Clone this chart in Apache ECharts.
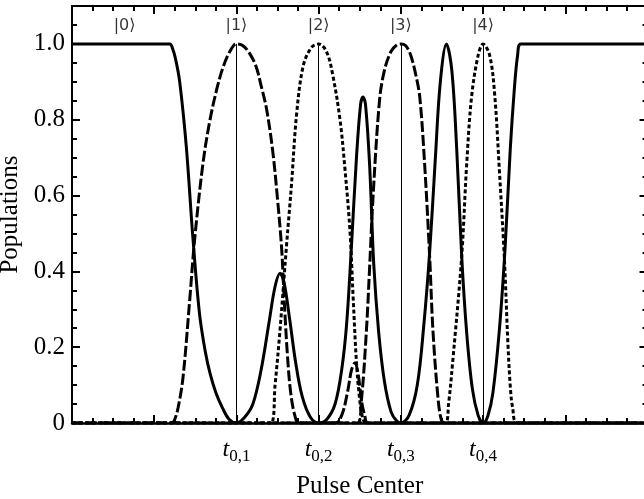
<!DOCTYPE html>
<meta charset="utf-8">
<style>
html, body { margin: 0; padding: 0; background: #fff; }
#main { width: 644px; height: 499px; }
</style>
<div id="main"></div>
<script src="https://cdn.jsdelivr.net/npm/echarts@6/dist/echarts.min.js"></script>
<script>
// populations, x in units of pulse spacing (t0,n = n)
var solidCurve = [
    [-1, 1], [0.19, 1], [0.22, 0.99], [0.26, 0.96], [0.31, 0.9], [0.39, 0.73], [0.47, 0.49],
    [0.55, 0.29], [0.62, 0.19], [0.68, 0.13], [0.75, 0.08], [0.83, 0.04], [0.91, 0.01], [1, 0],
    [1.1, 0.015], [1.2, 0.05], [1.3, 0.14], [1.4, 0.27], [1.47, 0.36], [1.53, 0.395], [1.58, 0.37],
    [1.65, 0.27], [1.72, 0.16], [1.8, 0.07], [1.9, 0.015], [2, 0],
    [2.1, 0.01], [2.2, 0.05], [2.28, 0.14], [2.34, 0.26], [2.4, 0.47], [2.46, 0.7], [2.51, 0.84],
    [2.54, 0.86], [2.57, 0.84], [2.62, 0.68], [2.67, 0.42], [2.73, 0.24], [2.8, 0.11], [2.88, 0.03],
    [2.95, 0.005], [3, 0],
    [3.1, 0.02], [3.2, 0.1], [3.28, 0.26], [3.35, 0.45], [3.42, 0.7], [3.48, 0.9], [3.555, 1],
    [3.62, 0.93], [3.68, 0.72], [3.74, 0.44], [3.8, 0.24], [3.87, 0.09], [3.94, 0.02], [4, 0],
    [4.06, 0.02], [4.12, 0.08], [4.2, 0.25], [4.27, 0.47], [4.33, 0.72], [4.38, 0.88], [4.42, 0.97],
    [4.46, 1], [6, 1]
];
var state1 = [
    [-1, 0], [0.2, 0], [0.24, 0.005], [0.29, 0.04], [0.35, 0.12], [0.43, 0.32], [0.49, 0.48],
    [0.59, 0.68], [0.67, 0.79], [0.76, 0.88], [0.84, 0.94], [0.92, 0.98], [1, 1],
    [1.08, 0.995], [1.16, 0.975], [1.24, 0.94], [1.3, 0.89], [1.365, 0.83], [1.44, 0.72],
    [1.5, 0.59], [1.55, 0.46], [1.58, 0.33], [1.62, 0.18], [1.66, 0.08], [1.71, 0.02], [1.76, 0],
    [2.2, 0], [2.28, 0.02], [2.35, 0.08], [2.4, 0.14], [2.44, 0.158], [2.48, 0.13], [2.52, 0.06],
    [2.56, 0.02], [2.6, 0], [6, 0]
];
var state2 = [
    [-1, 0], [1.42, 0], [1.47, 0.1], [1.53, 0.245], [1.61, 0.47], [1.67, 0.63], [1.73, 0.81],
    [1.81, 0.94], [1.91, 0.99], [2, 1], [2.095, 0.98], [2.17, 0.92], [2.26, 0.8], [2.32, 0.67],
    [2.38, 0.51], [2.42, 0.33], [2.46, 0.16], [2.5, 0.06], [2.54, 0.01], [2.58, 0], [6, 0]
];
var state3 = [
    [-1, 0], [2.47, 0], [2.52, 0.06], [2.58, 0.24], [2.62, 0.41], [2.66, 0.59], [2.74, 0.85],
    [2.8, 0.93], [2.88, 0.98], [2.95, 0.997], [3, 1], [3.06, 0.995], [3.12, 0.97], [3.18, 0.92],
    [3.23, 0.86], [3.29, 0.68], [3.35, 0.44], [3.39, 0.245], [3.45, 0.07], [3.49, 0.01], [3.53, 0],
    [6, 0]
];
var state4 = [
    [-1, 0], [3.54, 0], [3.58, 0.05], [3.63, 0.16], [3.74, 0.44], [3.8, 0.68], [3.86, 0.86],
    [3.94, 0.97], [4, 1], [4.08, 0.97], [4.14, 0.87], [4.2, 0.66], [4.26, 0.43], [4.3, 0.22],
    [4.33, 0.1], [4.36, 0.04], [4.42, 0], [6, 0]
];

var pulseTicks = [1, 2, 3, 4];
var pulseTickLabels = ['0,1', '0,2', '0,3', '0,4'];
var ketNames = ['|0\u27e9', '|1\u27e9', '|2\u27e9', '|3\u27e9', '|4\u27e9'];
var ketX = [-0.36, 1, 2, 3, 4];
var ketY = 1.047;

var chart = echarts.init(document.getElementById('main'));

var serif = '"Liberation Serif", "Times New Roman", serif';
var black = '#000';

function xAxisBase(pos) {
    return {
        type: 'value', position: pos, min: -1, max: 6, interval: 1,
        axisLine: { show: true, onZero: false, lineStyle: { color: black, width: pos === 'bottom' ? 2.5 : 2 } },
        axisTick: { show: true, inside: true, length: 8, lineStyle: { color: black, width: 2 } },
        minorTick: { show: true, splitNumber: 4, length: 5, lineStyle: { color: black, width: 2 } },
        splitLine: { show: false },
        axisLabel: { show: false }
    };
}
function yAxisBase(pos, step, len, line) {
    return {
        type: 'value', position: pos, min: 0, max: 1.1, interval: step,
        axisLine: { show: line, onZero: false, lineStyle: { color: black, width: 2 } },
        axisTick: { show: true, inside: true, length: len, lineStyle: { color: black, width: 2 } },
        splitLine: { show: false },
        axisLabel: { show: false }
    };
}

var xBottom = xAxisBase('bottom');
xBottom.axisLabel = {
    show: true, margin: 11,
    formatter: function (v) {
        var i = pulseTicks.indexOf(v);
        return i < 0 ? '' : '{t|t}{s|' + pulseTickLabels[i] + '}';
    },
    rich: {
        t: { fontFamily: serif, fontStyle: 'italic', fontSize: 24, color: black },
        s: { fontFamily: serif, fontSize: 17, color: black, padding: [14, 0, 0, 0] }
    }
};
xBottom.name = 'Pulse Center';
xBottom.nameLocation = 'middle';
xBottom.nameGap = 51;
xBottom.nameTextStyle = { fontFamily: serif, fontSize: 25, color: black };

var yLeft = yAxisBase('left', 0.2, 8, true);
yLeft.axisLabel = {
    show: true, margin: 7, fontFamily: serif, fontSize: 25, color: black,
    formatter: function (v) {
        if (v > 1.0001) return '';
        return v === 0 ? '0' : v.toFixed(1);
    }
};
yLeft.name = 'Populations';
yLeft.nameLocation = 'middle';
yLeft.nameGap = 46;
yLeft.nameTextStyle = { fontFamily: serif, fontSize: 25, color: black };

function curve(data, type) {
    return {
        type: 'line', data: data, showSymbol: false, symbol: 'none',
        smooth: 0.35,
        lineStyle: { color: black, width: 3, type: type },
        z: 3
    };
}

var guideLines = curve([], 'solid');
guideLines.markLine = {
    silent: true, symbol: ['none', 'none'], animation: false,
    label: { show: false },
    lineStyle: { color: black, width: 1, type: 'solid' },
    data: pulseTicks.map(function (t) { return [{ coord: [t, 0] }, { coord: [t, 1] }]; })
};
guideLines.z = 2;

var option = {
    animation: false,
    backgroundColor: '#fff',
    grid: { left: 72, top: 6, width: 575.5, height: 417, containLabel: false, outerBoundsMode: 'none' },
    xAxis: [xBottom, xAxisBase('top')],
    yAxis: [
        yLeft,
        yAxisBase('left', 0.05, 5, false),
        yAxisBase('right', 0.2, 8, true),
        yAxisBase('right', 0.05, 5, false)
    ],
    series: [
        guideLines,
        curve(state1, [11, 3]),
        curve(state3, [11, 3]),
        curve(state2, [4, 2.5]),
        curve(state4, [4, 2.5]),
        curve(solidCurve, 'solid'),
        {
            type: 'scatter', symbolSize: 0, silent: true, z: 5,
            data: ketNames.map(function (n, i) { return { name: n, value: [ketX[i], ketY] }; }),
            label: {
                show: true, position: 'inside', formatter: '{b}',
                fontFamily: '"DejaVu Sans", sans-serif', fontSize: 16, color: black
            }
        }
    ]
};

chart.setOption(option);
</script>
